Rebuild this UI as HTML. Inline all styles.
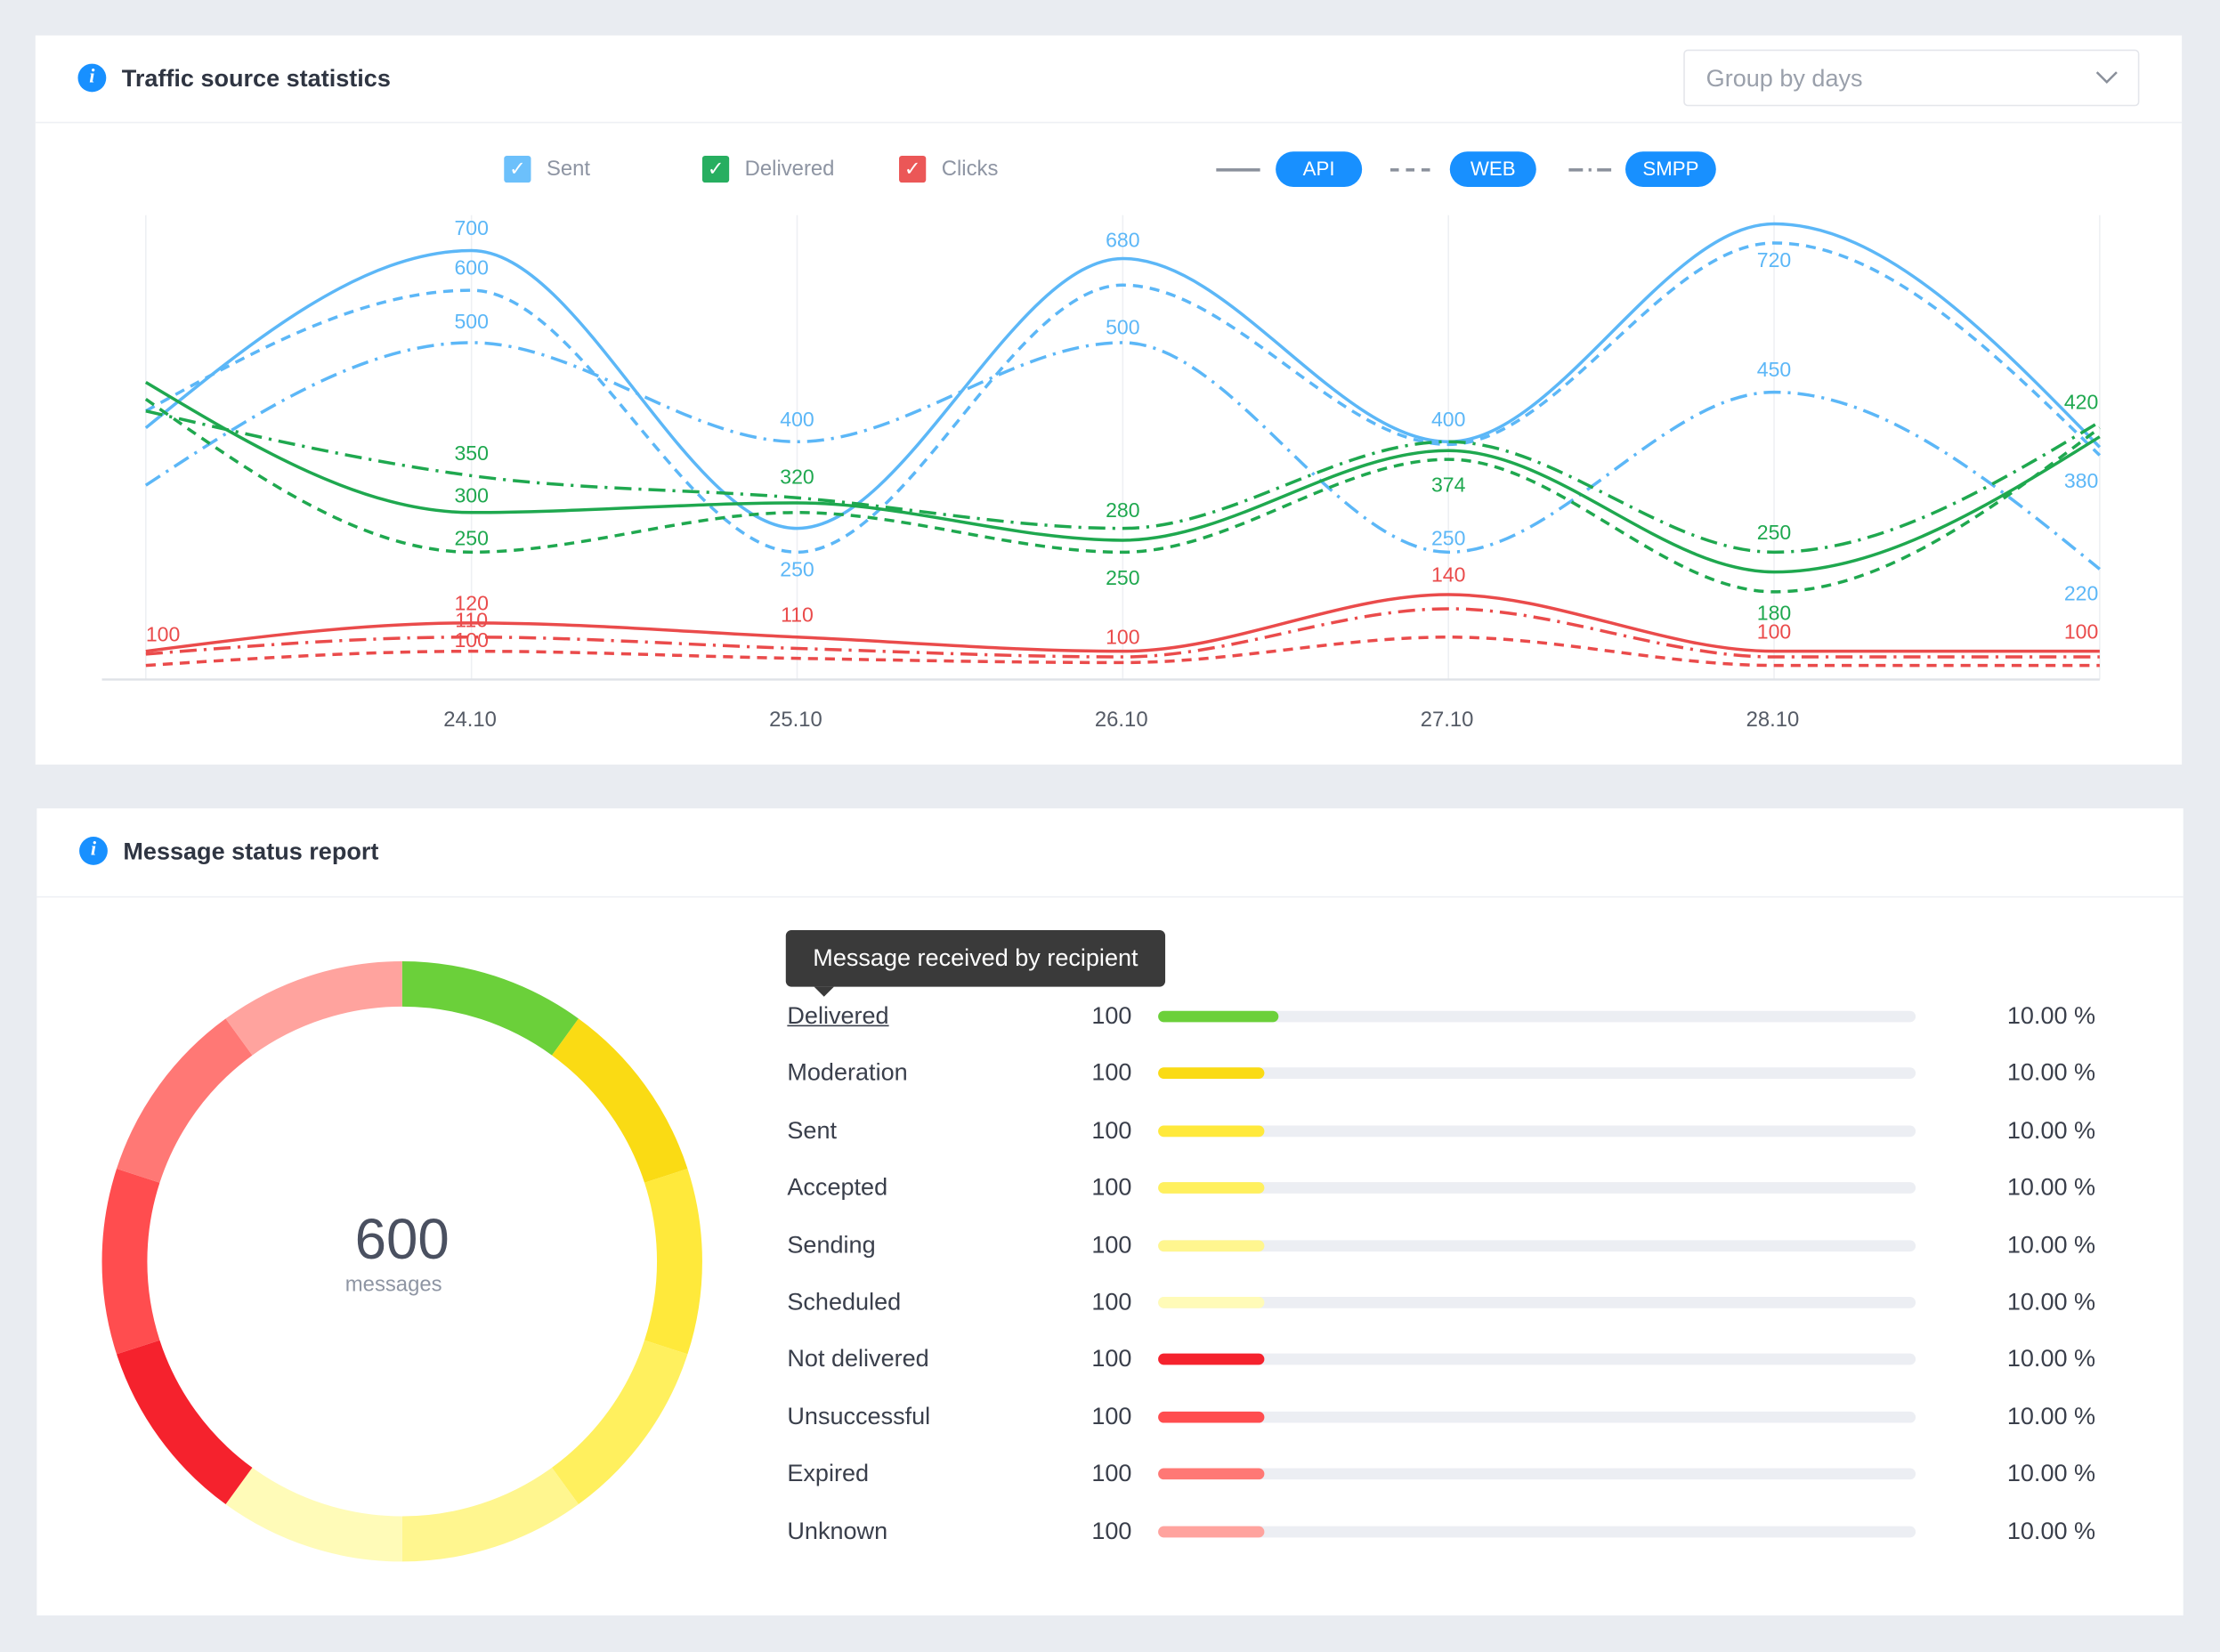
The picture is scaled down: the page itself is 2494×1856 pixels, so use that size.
<!DOCTYPE html>
<html><head><meta charset="utf-8"><style>
html,body{margin:0;padding:0;width:2494px;height:1856px;overflow:hidden;background:#e9ecf1;font-family:"Liberation Sans",sans-serif}
#wrap{position:absolute;left:0;top:0;width:1568px;height:1167px;transform:scale(1.5906);transform-origin:0 0}
.panel{position:absolute;background:#fff}
.abs{position:absolute}
.title{font-size:17px;color:#2f3542;font-weight:bold}
.icon{position:absolute;width:20px;height:20px;border-radius:50%;background:#1890ff;color:#fff;font:italic bold 14px "Liberation Serif",serif;text-align:center;line-height:20px}
.cb{position:absolute;width:19px;height:19px;border-radius:2px;color:#fff;font-size:14px;text-align:center;line-height:19px}
.lg{position:absolute;font-size:15px;color:#8e95a3}
.pill{position:absolute;height:25px;width:61px;border-radius:13px;background:#1890ff;color:#fff;font-size:14px;text-align:center;line-height:25px}
.row{position:absolute;left:556px;font-size:17px;color:#3a3f4b;height:24px;line-height:24px}
.cnt{position:absolute;left:771px;font-size:17px;color:#3a3f4b}
.track{position:absolute;left:818px;width:535px;height:8px;border-radius:4px;background:#eceef3}
.fill{position:absolute;left:0;top:0;height:8px;border-radius:4px}
.pct{position:absolute;left:1380px;width:100px;text-align:right;font-size:17px;color:#3a3f4b}
</style></head><body>
<div id="wrap">
<div class="panel" style="left:25px;top:25px;width:1516px;height:515px"></div>
<div class="abs" style="left:25px;top:86px;width:1516px;height:1px;background:#eef0f4"></div>
<div class="icon" style="left:55px;top:45px">i</div>
<div class="abs title" style="left:86px;top:46px">Traffic source statistics</div>
<div class="abs" style="left:1189px;top:35px;width:322px;height:40px;border:1px solid #e4e6eb;border-radius:3px;font-size:17px;color:#9aa0ab;line-height:40px;box-sizing:border-box;padding-left:15px">Group by days
<svg style="position:absolute;right:14px;top:14px" width="16" height="10"><path d="M1 1 L8 8 L15 1" fill="none" stroke="#8a909b" stroke-width="1.6"/></svg></div>

<div class="cb" style="left:356px;top:110px;background:#6cc0fb">✓</div>
<div class="lg" style="left:386px;top:111px">Sent</div>
<div class="cb" style="left:496px;top:110px;background:#27ae60">✓</div>
<div class="lg" style="left:526px;top:111px">Delivered</div>
<div class="cb" style="left:635px;top:110px;background:#eb5757">✓</div>
<div class="lg" style="left:665px;top:111px">Clicks</div>
<svg class="abs" style="left:855px;top:110px" width="290" height="20">
<line x1="4" y1="10" x2="35" y2="10" stroke="#8a909b" stroke-width="2.2"/>
<line x1="127" y1="10" x2="160" y2="10" stroke="#8a909b" stroke-width="2.2" stroke-dasharray="6 5"/>
<line x1="253" y1="10" x2="284" y2="10" stroke="#8a909b" stroke-width="2.2" stroke-dasharray="10 4 2 4"/>
</svg>
<div class="pill" style="left:901px;top:107px">API</div>
<div class="pill" style="left:1024px;top:107px">WEB</div>
<div class="pill" style="left:1148px;top:107px;width:64px">SMPP</div>

<svg id="chart" class="abs" style="left:0;top:0" width="1568" height="540"></svg>

<div class="panel" style="left:26px;top:571px;width:1516px;height:570px"></div>
<div class="abs" style="left:26px;top:633px;width:1516px;height:1px;background:#eef0f4"></div>
<div class="icon" style="left:56px;top:591px">i</div>
<div class="abs title" style="left:87px;top:592px">Message status report</div>
<svg id="donut" class="abs" style="left:60px;top:667px" width="450" height="450"></svg>
<div class="abs" style="left:184px;top:854px;width:200px;text-align:center;font-size:40px;color:#4a5060">600</div>
<div class="abs" style="left:178px;top:899px;width:200px;text-align:center;font-size:15px;color:#8e95a3">messages</div>
<div id="rows"></div>
<div class="abs" style="left:555px;top:657px;width:268px;height:40px;background:#3a3a3a;border-radius:4px;color:#fff;font-size:17px;line-height:40px;text-align:center">Message received by recipient</div>
<div class="abs" style="left:575px;top:697px;width:0;height:0;border-left:7px solid transparent;border-right:7px solid transparent;border-top:7px solid #3a3a3a"></div>
</div>
<script>
const dates=["23.10","24.10","25.10","26.10","27.10","28.10","29.10"];
const tickLabels=["24.10","25.10","26.10","27.10","28.10"];
const sentApi=[414,700,280,680,400,770,392];
const sentWeb=[431,600,250,613,396,720,380];
const sentSmpp=[337,500,400,500,250,450,220];
const delApi=[460,300,313,265,387,215,405];
const delWeb=[443,250,300,250,374,180,414];
const delSmpp=[431,350,320,280,400,250,420];
const clkApi=[100,120,110,100,140,100,100];
const clkSmpp=[98,110,102,96,130,96,96];
const clkWeb=[90,100,95,92,110,90,90];
const statusNames=["Delivered","Moderation","Sent","Accepted","Sending","Scheduled","Not delivered","Unsuccessful","Expired","Unknown"];
const statusCounts=[100,100,100,100,100,100,100,100,100,100];
const statusPct=[10,10,10,10,10,10,10,10,10,10];
const statusColors=["#6bd03a","#fadb14","#ffe93b","#fff05e","#fff68f","#fffbb8","#f5222d","#ff4d4f","#ff7875","#ffa39e"];

const NS="http://www.w3.org/2000/svg";
const x0=103,x1=1483;
function X(i){return x0+(x1-x0)*i/(dates.length-1);}
const yKnots=[[0,505],[180,418],[250,390],[300,362],[350,336],[400,312],[500,242],[600,205],[700,177],[800,150]];
function Y(v){for(let k=0;k<yKnots.length-1;k++){const a=yKnots[k],b=yKnots[k+1];if(v<=b[0]||k===yKnots.length-2){return a[1]+(v-a[0])*(b[1]-a[1])/(b[0]-a[0]);}}}
function YC(v){return 460-(v-100)*1.0;}
const svg=document.getElementById('chart');
function mk(tag,attrs,parent){const e=document.createElementNS(NS,tag);for(const k in attrs)e.setAttribute(k,attrs[k]);(parent||svg).appendChild(e);return e;}
for(let i=0;i<dates.length;i++){const g=mk('line',{x1:X(i),x2:X(i),y1:152,y2:480,stroke:'#eef0f3','stroke-width':1});

}
const ax=mk('line',{x1:72,x2:x1,y1:480,y2:480,stroke:'#dfe2e7','stroke-width':1.5});


tickLabels.forEach((t,k)=>{const e=mk('text',{x:X(k+1)-1,y:513,'text-anchor':'middle','font-size':15,fill:'#555b66'});e.textContent=t;

});
function path(vals,sc){const p=vals.map((v,i)=>[X(i),sc(v)]);const n=p.length;const s=[],h=[];
for(let i=0;i<n-1;i++){h.push(p[i+1][0]-p[i][0]);s.push((p[i+1][1]-p[i][1])/h[i]);}
const m=new Array(n);
for(let i=1;i<n-1;i++){const a=s[i-1],b=s[i];if(a*b<=0)m[i]=0;else{const q=(a*h[i]+b*h[i-1])/(h[i-1]+h[i]);m[i]=(Math.sign(a)+Math.sign(b))*Math.min(Math.abs(a),Math.abs(b),0.5*Math.abs(q));}}
m[0]=(3*s[0]-m[1])/2;m[n-1]=(3*s[n-2]-m[n-2])/2;
let d=`M${p[0][0]},${p[0][1]}`;
for(let i=0;i<n-1;i++){const dx=h[i]/3;d+=` C${p[i][0]+dx},${p[i][1]+m[i]*dx} ${p[i+1][0]-dx},${p[i+1][1]-m[i+1]*dx} ${p[i+1][0]},${p[i+1][1]}`;}
return d;}
const BL='#5cb7f7',GR='#1fa84f',RD='#ea4b4b';
const dashes={api:'',web:'7 5',smpp:'12 5 2 5'};
const series=[
['sent-api',sentApi,Y,BL,'api'],['sent-web',sentWeb,Y,BL,'web'],['sent-smpp',sentSmpp,Y,BL,'smpp'],
['delivered-api',delApi,Y,GR,'api'],['delivered-web',delWeb,Y,GR,'web'],['delivered-smpp',delSmpp,Y,GR,'smpp'],
['clicks-api',clkApi,YC,RD,'api'],['clicks-web',clkWeb,YC,RD,'web'],['clicks-smpp',clkSmpp,YC,RD,'smpp']];
const S={};
series.forEach(([n,v,sc,c,t])=>{S[n]=[v,sc,c];const e=mk('path',{d:path(v,sc),fill:'none',stroke:c,'stroke-width':2.2,'stroke-dasharray':dashes[t]});

});
const labels=[['sent-api',1,-16],['sent-web',1,-16],['sent-smpp',1,-15],['sent-smpp',2,-16],['sent-web',2,12],['sent-api',3,-13],['sent-smpp',3,-11],['sent-api',4,-16],['sent-web',5,12],['sent-smpp',5,-16],['sent-smpp',4,-10],['sent-web',6,18],['sent-smpp',6,17],
['delivered-smpp',1,-16],['delivered-api',1,-12],['delivered-web',1,-10],['delivered-smpp',2,-15],['delivered-smpp',3,-13],['delivered-web',3,18],['delivered-web',4,18],['delivered-web',5,15],['delivered-smpp',5,-14],['delivered-smpp',6,-14],
['clicks-api',0,-12],['clicks-api',1,-14],['clicks-smpp',1,-12],['clicks-web',1,-8],['clicks-api',2,-16],['clicks-api',3,-10],['clicks-api',4,-14],['clicks-api',5,-14],['clicks-api',6,-14]];
labels.forEach(([n,i,dy])=>{const [v,sc,c]=S[n];let x=X(i);let anc='middle';if(i===0){anc='start';}if(i===dates.length-1){anc='end';x=X(i)-1;}
const e=mk('text',{x:x,y:sc(v[i])+dy+5,'text-anchor':anc,'font-size':14.5,fill:c});e.textContent=v[i];

});

const dn=document.getElementById('donut');const cx=224,cy=224,r=196,w=32;
const total=statusCounts.reduce((a,b)=>a+b,0);let acc=0;
statusCounts.forEach((c,i)=>{const a0=acc/total*2*Math.PI;acc+=c;const a1=acc/total*2*Math.PI;
const px=a=>cx+r*Math.sin(a),py=a=>cy-r*Math.cos(a);
const e=document.createElementNS(NS,'path');
e.setAttribute('d',`M${px(a0)},${py(a0)} A${r},${r} 0 ${a1-a0>Math.PI?1:0} 1 ${px(a1)},${py(a1)}`);
e.setAttribute('fill','none');e.setAttribute('stroke',statusColors[i]);e.setAttribute('stroke-width',w);


dn.appendChild(e);});

const rows=document.getElementById('rows');
statusNames.forEach((n,i)=>{const y=706+i*40.4;
const a=document.createElement('div');a.className='row';a.style.top=y+'px';a.textContent=n;if(i===0)a.style.textDecoration='underline';


rows.appendChild(a);
const b=document.createElement('div');b.className='cnt';b.style.top=(y+2)+'px';b.textContent=statusCounts[i];


rows.appendChild(b);
const t=document.createElement('div');t.className='track';t.style.top=(y+8)+'px';


const f=document.createElement('div');f.className='fill';f.style.width=(statusPct[i]*(i===0?8.5:7.5))+'px';f.style.background=statusColors[i];


t.appendChild(f);rows.appendChild(t);
const p=document.createElement('div');p.className='pct';p.style.top=(y+2)+'px';p.textContent=statusPct[i].toFixed(2)+' %';


rows.appendChild(p);});
</script>
</body></html>
